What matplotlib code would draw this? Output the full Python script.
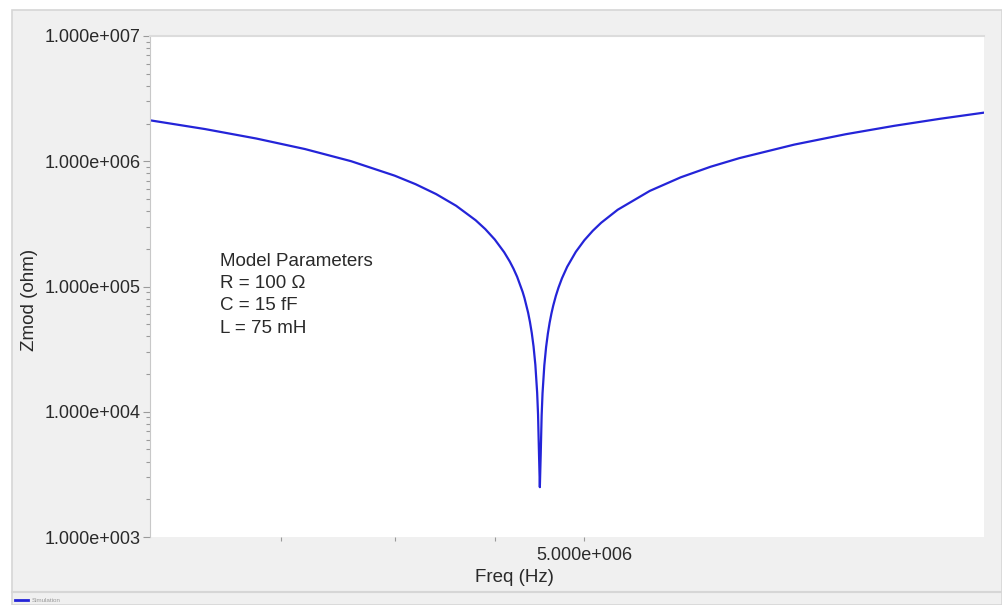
import matplotlib
matplotlib.use("Agg")
import matplotlib.pyplot as plt
from matplotlib.patches import Rectangle
from matplotlib.lines import Line2D

plt.rcParams['font.family'] = ['Liberation Sans', 'DejaVu Sans']

# Impedance magnitude (Hz, ohm)
freq = [3.0e6, 3.2e6, 3.4e6, 3.6e6, 3.8e6, 4.0e6, 4.1e6, 4.2e6, 4.3e6, 4.4e6,
        4.45e6, 4.5e6, 4.55e6, 4.58e6, 4.6e6, 4.62e6, 4.65e6, 4.66e6, 4.68e6,
        4.69e6, 4.70e6, 4.71e6, 4.72e6, 4.73e6, 4.735e6, 4.74e6, 4.745e6,
        4.75e6, 4.755e6, 4.76e6, 4.77e6, 4.78e6, 4.79e6, 4.80e6, 4.81e6, 4.82e6,
        4.835e6, 4.85e6, 4.87e6, 4.9e6, 4.95e6, 5.0e6, 5.05e6, 5.1e6,
        5.2e6, 5.4e6, 5.6e6, 5.8e6, 6.0e6, 6.4e6, 6.8e6, 7.2e6, 7.6e6, 8.0e6]
zmod = [2.123e6, 1.808e6, 1.518e6, 1.251e6, 1.0015e6, 7.676e5, 6.558e5, 5.470e5,
        4.412e5, 3.380e5, 2.873e5, 2.373e5, 1.878e5, 1.584e5, 1.389e5, 1.195e5,
        9.05e4, 8.09e4, 6.18e4, 5.22e4, 4.27e4, 3.32e4, 2.37e4, 1.42e4, 9.5e3,
        4.78e3, 2.5e3, 4.64e3, 9.3e3, 1.404e4, 2.343e4, 3.28e4, 4.21e4, 5.147e4,
        6.08e4, 7.01e4, 8.40e4, 9.78e4, 1.162e5, 1.437e5, 1.891e5, 2.341e5,
        2.787e5, 3.229e5, 4.100e5, 5.798e5, 7.442e5, 9.038e5, 1.059e6, 1.358e6,
        1.644e6, 1.919e6, 2.185e6, 2.444e6]

y_ticks = [1e3, 1e4, 1e5, 1e6, 1e7]
y_labels = ['1.000e+003', '1.000e+004', '1.000e+005', '1.000e+006', '1.000e+007']
x_ticks = [5e6]
x_labels = ['5.000e+006']
x_minor = [3.5e6, 4.0e6, 4.5e6]

params = "Model Parameters\nR = 100 \u03a9\nC = 15 fF\nL = 75 mH"

W, H = 1002, 605
fig = plt.figure(figsize=(W / 100, H / 100), dpi=100)
fig.patch.set_facecolor('white')

# grey panel around the plot
fig.patches.append(Rectangle((12 / W, 0), 1 - 12 / W, 1 - 10 / H, transform=fig.transFigure,
                             facecolor='#f0f0f0', edgecolor='#d6d6d6', lw=1.2, zorder=-10))
fig.lines.append(Line2D([12 / W, 1], [1 - 592 / H, 1 - 592 / H], transform=fig.transFigure,
                        color='#d6d6d6', lw=1.5, zorder=-9))

ax = fig.add_axes([150 / W, 1 - 537 / H, 834 / W, 501 / H])
ax.set_facecolor('white')
ax.plot(freq, zmod, color='#2424d8', lw=1.6)

ax.set_xscale('log')
ax.set_yscale('log')
ax.set_xlim(3e6, 8e6)
ax.set_ylim(1e3, 1e7)

ax.set_yticks(y_ticks)
ax.set_yticklabels(y_labels)
ax.set_xticks(x_ticks)
ax.set_xticklabels(x_labels)
ax.set_xticks(x_minor, minor=True)
ax.xaxis.set_minor_formatter(plt.NullFormatter())

ax.tick_params(axis='both', which='both', colors='#9a9a9a', labelcolor='#2a2a2a',
               labelsize=13, width=0.8)
ax.tick_params(axis='y', which='major', length=5, pad=2)
ax.tick_params(axis='y', which='minor', length=3)
ax.tick_params(axis='x', which='both', length=3, pad=4)

for s in ['right', 'bottom']:
    ax.spines[s].set_visible(False)
ax.spines['left'].set_color('#c8c8c8')
ax.spines['top'].set_color('#dcdcdc')
ax.spines['top'].set_linewidth(1.5)

ax.set_xlabel('Freq (Hz)', fontsize=13.5, color='#2a2a2a')
ax.xaxis.set_label_coords((514 - 150) / 834, -(577 - 537) / 501)
ax.set_ylabel('Zmod (ohm)', fontsize=13.5, color='#2a2a2a')
ax.yaxis.set_label_coords((30 - 150) / 834, (537 - 300) / 501)
ax.xaxis.label.set_va('center')
ax.yaxis.label.set_va('center')

fig.text(220 / W, 1 - 253 / H, params, fontsize=13.5, color='#2a2a2a',
         va='top', ha='left', linespacing=1.4)

# tiny legend strip
fig.lines.append(Line2D([15 / W, 28 / W], [1 - 600 / H, 1 - 600 / H], transform=fig.transFigure,
                        color='#2424d8', lw=2))
fig.text(32 / W, 1 - 600 / H, 'Simulation', fontsize=4.5, color='#999999', va='center')

fig.savefig('out.png', dpi=100)
